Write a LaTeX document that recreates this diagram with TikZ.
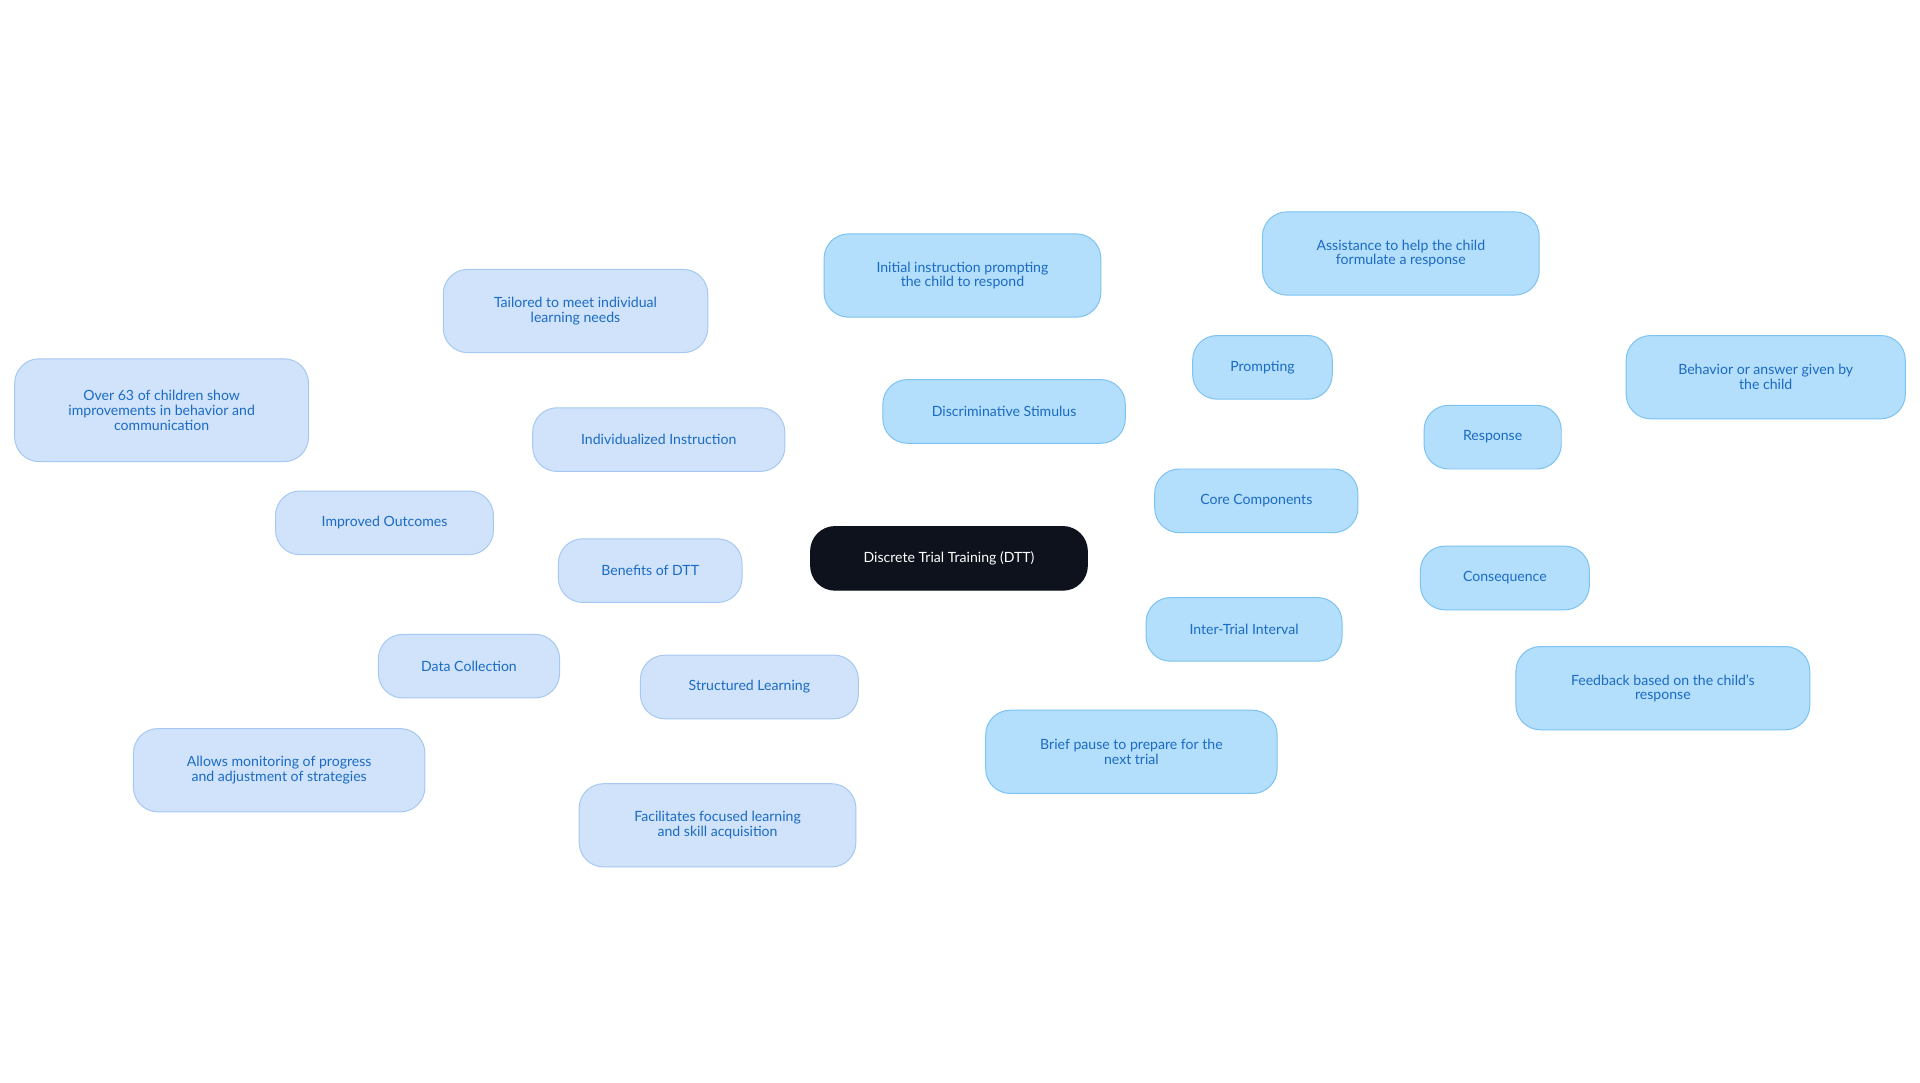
\documentclass[tikz,border=0pt]{standalone}
\usepackage{fontspec}
\setmainfont{Lato}
\usetikzlibrary{backgrounds}
\definecolor{lfill}{HTML}{D0E3FA}
\definecolor{ldraw}{HTML}{A6C8F2}
\definecolor{cfill}{HTML}{B3DEFC}
\definecolor{cdraw}{HTML}{7CC3F2}
\definecolor{txt}{HTML}{1B6BC4}
\definecolor{rootc}{HTML}{0D121C}
\tikzset{
 base/.style={rounded corners=20pt, align=center, font=\fontsize{11.5}{12}\selectfont, text=txt, inner sep=2pt, line width=0.8pt},
 lnode/.style={base, fill=lfill, draw=ldraw},
 cnode/.style={base, fill=cfill, draw=cdraw},
 rootnode/.style={base, fill=rootc, draw=rootc, text=white},
 ledge/.style={draw=ldraw, line width=1.5pt},
 cedge/.style={draw=cdraw, line width=1.5pt},
}
\newcommand{\nd}[7]{\node[#1, minimum width=#5pt, minimum height=#6pt] (#2) at (#3pt,-#4pt) {#7};}
\begin{document}
\begin{tikzpicture}[x=1pt,y=1pt]
\useasboundingbox[fill=white] (0,0) rectangle (1568,-884);
\nd{rootnode}{root}{775}{456}{226}{52}{Discrete Trial Training (DTT)}
\nd{lnode}{ben}{531}{466}{150}{52}{Benefits of DTT}
\nd{lnode}{ind}{538}{359}{206}{52}{Individualized Instruction}
\nd{lnode}{tai}{470}{254}{216}{68}{Tailored to meet individual\\learning needs}
\nd{lnode}{imp}{314}{427}{178}{52}{Improved Outcomes}
\nd{lnode}{ove}{132}{335}{240}{84}{Over 63 of children show\\improvements in behavior and\\communication}
\nd{lnode}{dat}{383}{544}{148}{52}{Data Collection}
\nd{lnode}{all}{228}{629}{238}{68}{Allows monitoring of progress\\and adjustment of strategies}
\nd{lnode}{str}{612}{561}{178}{52}{Structured Learning}
\nd{lnode}{fac}{586}{674}{226}{68}{Facilitates focused learning\\and skill acquisition}
\nd{cnode}{core}{1026}{409}{166}{52}{Core Components}
\nd{cnode}{dis}{820}{336}{198}{52}{Discriminative Stimulus}
\nd{cnode}{ini}{786}{225}{226}{68}{Initial instruction prompting\\the child to respond}
\nd{cnode}{pro}{1031}{300}{114}{52}{Prompting}
\nd{cnode}{ass}{1144}{207}{226}{68}{Assistance to help the child\\formulate a response}
\nd{cnode}{res}{1219}{357}{112}{52}{Response}
\nd{cnode}{beh}{1442}{308}{228}{68}{Behavior or answer given by\\the child}
\nd{cnode}{con}{1229}{472}{138}{52}{Consequence}
\nd{cnode}{fee}{1358}{562}{240}{68}{Feedback based on the child's\\response}
\nd{cnode}{int}{1016}{514}{160}{52}{Inter-Trial Interval}
\nd{cnode}{bri}{924}{614}{238}{68}{Brief pause to prepare for the\\next trial}
\begin{scope}[on background layer]
\draw[ledge] (root)--(ben) (ben)--(ind) (ind)--(tai) (ben)--(imp) (imp)--(ove) (ben)--(dat) (dat)--(all) (ben)--(str) (str)--(fac);
\draw[cedge] (root)--(core) (core)--(dis) (dis)--(ini) (core)--(pro) (pro)--(ass) (core)--(res) (res)--(beh) (core)--(con) (con)--(fee) (core)--(int) (int)--(bri);
\end{scope}
\end{tikzpicture}
\end{document}
